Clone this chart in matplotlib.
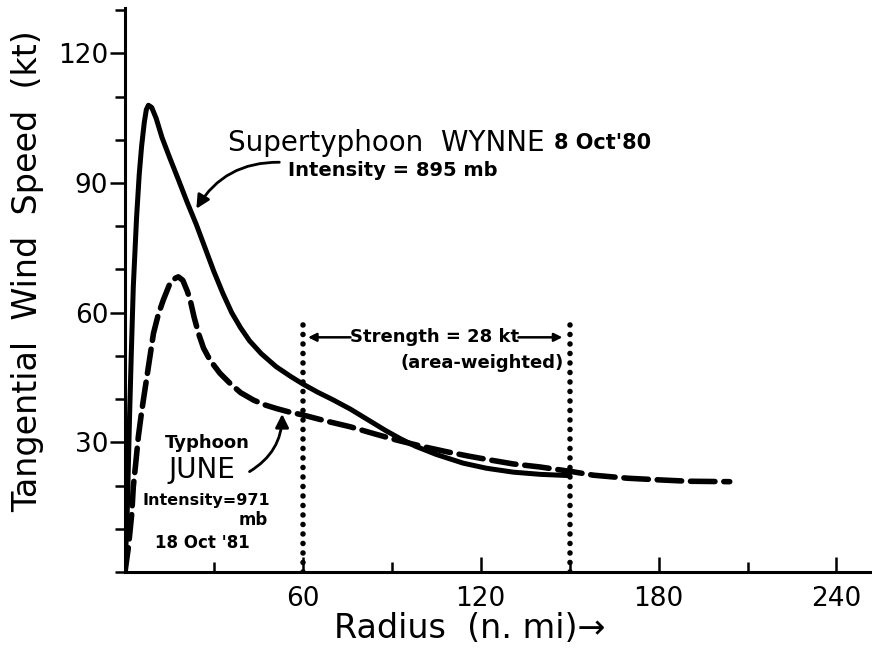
import matplotlib
matplotlib.use('Agg')
import matplotlib.pyplot as plt
from matplotlib.ticker import MultipleLocator

# Supertyphoon WYNNE (solid)
wynne_r = [0, 0.8, 1.5, 2.1, 2.8, 3.9, 4.8, 5.6, 6.5, 7.2, 7.9, 9.0, 10.5, 12.5, 15, 18,
           21, 24, 27, 30, 33, 36, 39, 42, 46, 51, 56, 60, 65, 70, 76, 82, 88, 93,
           98, 105, 114, 122, 131, 140, 150]
wynne_v = [0, 15, 35, 50, 66, 82, 92, 98.5, 104, 107, 108, 107.5, 105, 100.5, 96, 90.8,
           85.5, 80.5, 75, 69.5, 64.5, 60, 56.5, 53.5, 50.5, 47.5, 45.2, 43.5, 41.6, 39.9,
           37.7, 35.2, 32.7, 30.8, 29.1, 27.2, 25.2, 24, 23.1, 22.6, 22.3]

# Typhoon JUNE (dashed)
june_r = [0, 1.2, 2.3, 2.8, 3.6, 4.5, 5.4, 6.2, 7.9, 9.6, 11.2, 12.9, 15, 17, 18, 19.5,
          21, 22, 23.3, 24.8, 26.5, 28.7, 32, 35.5, 39, 43.3, 47, 51.2, 55.5, 60.2, 68,
          76, 84, 91.8, 100, 108.7, 116, 123.3, 131, 140, 151, 158, 169.5, 180.7, 190, 204]
june_v = [0, 6, 13.6, 19.7, 25, 31.3, 36, 39.8, 47.5, 55.2, 59.5, 62.9, 66.5, 68, 68.3,
          67.5, 65, 62.9, 59, 55.2, 51.8, 49, 46, 43.6, 41.5, 39.8, 38.7, 37.8, 37, 36.3,
          34.9, 33.6, 32, 30.5, 29.1, 27.8, 26.8, 25.9, 25, 24.3, 23.2, 22.4, 21.7, 21.3,
          21, 20.9]

# averaging band for the strength (area-weighted)
band_r = [60, 150]
band_top = 59
strength_kt = 28

x_major = [60, 120, 180, 240]
y_major = [30, 60, 90, 120]

fig = plt.figure(figsize=(8.72, 6.67), dpi=100)
ax = fig.add_axes([125 / 872, 95 / 667, 747 / 872, 564 / 667])

ax.plot(wynne_r, wynne_v, color='black', lw=3.6, solid_capstyle='round',
        solid_joinstyle='round')
ax.plot(june_r, june_v, color='black', lw=4.0, linestyle=(0, (4.4, 1.6)),
        dash_capstyle='round')
for r in band_r:
    ax.plot([r, r], [0, band_top], color='black', lw=4.0,
            linestyle=(0, (0.01, 1.7)), dash_capstyle='round')

ax.set_xlim(0, 252)
ax.set_ylim(0, 130.5)

for side in ['top', 'right']:
    ax.spines[side].set_visible(False)
for side in ['left', 'bottom']:
    ax.spines[side].set_linewidth(2.2)

ax.set_xticks(x_major)
ax.set_yticks(y_major)
ax.xaxis.set_minor_locator(MultipleLocator(30))
ax.yaxis.set_minor_locator(MultipleLocator(10))
ax.tick_params(axis='x', which='major', direction='in', length=11, width=1.8,
               pad=10, labelsize=19)
ax.tick_params(axis='x', which='minor', direction='in', length=7, width=1.8)
ax.tick_params(axis='y', which='major', direction='out', length=11, width=1.8,
               pad=1, labelsize=19)
ax.tick_params(axis='y', which='minor', direction='out', length=7, width=1.8)

fig.text(28 / 872, 1 - 271 / 667, 'Tangential  Wind  Speed  (kt)', rotation=90,
         ha='center', va='center', fontsize=24)
fig.text(470 / 872, 1 - 628 / 667, 'Radius  (n. mi)\u2192', ha='center', va='center',
         fontsize=24)

# WYNNE labels
ax.text(34.8, 99.2, 'Supertyphoon  WYNNE', ha='left', va='center', fontsize=20)
ax.text(144.6, 99.2, "8 Oct'80", ha='left', va='center', fontsize=15,
        fontweight='bold')
ax.text(55.1, 92.9, 'Intensity = 895 mb', ha='left', va='center', fontsize=14,
        fontweight='bold')
ax.annotate('', xy=(23.6, 83.5), xytext=(53, 94.8),
            arrowprops=dict(arrowstyle='-|>', color='black', lw=2,
                            mutation_scale=20, connectionstyle='arc3,rad=0.3'))

# JUNE labels
ax.text(27.7, 29.8, 'Typhoon', ha='center', va='center', fontsize=13, fontweight='bold')
ax.text(26, 23.6, 'JUNE', ha='center', va='center', fontsize=20)
ax.text(27.4, 16.6, 'Intensity=971', ha='center', va='center', fontsize=11.5,
        fontweight='bold')
ax.text(43.2, 12, 'mb', ha='center', va='center', fontsize=12, fontweight='bold')
ax.text(26, 6.7, "18 Oct '81", ha='center', va='center', fontsize=12, fontweight='bold')
ax.annotate('', xy=(53, 37.2), xytext=(41.2, 22.9),
            arrowprops=dict(arrowstyle='-|>', color='black', lw=2,
                            mutation_scale=20, connectionstyle='arc3,rad=0.3'))

# strength band
ax.text(104.4, 54.3, f'Strength = {strength_kt} kt', ha='center', va='center',
        fontsize=13, fontweight='bold')
ax.text(120.6, 48.3, '(area-weighted)', ha='center', va='center', fontsize=13,
        fontweight='bold')
ax.annotate('', xy=(band_r[0] + 0.8, 54.3), xytext=(77, 54.3),
            arrowprops=dict(arrowstyle='-|>', color='black', lw=1.8, mutation_scale=12))
ax.annotate('', xy=(band_r[1] - 1.5, 54.3), xytext=(131.8, 54.3),
            arrowprops=dict(arrowstyle='-|>', color='black', lw=1.8, mutation_scale=12))

fig.savefig('out.png', dpi=100)
